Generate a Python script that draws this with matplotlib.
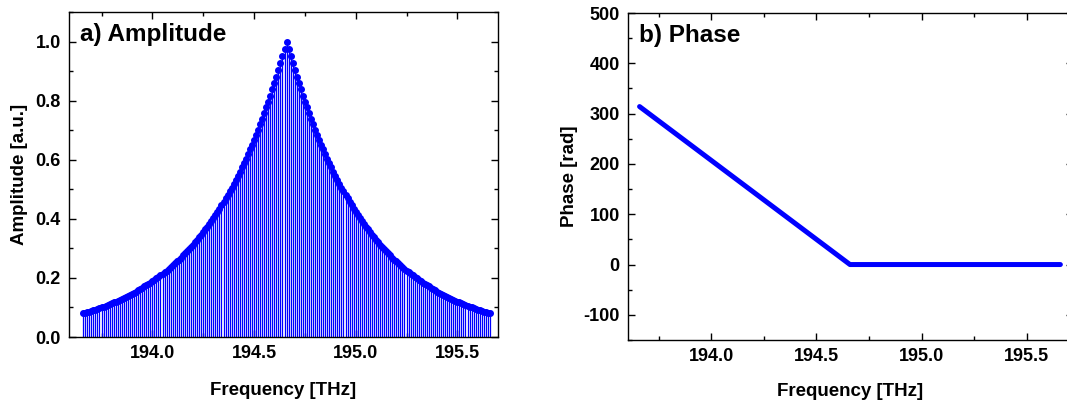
import matplotlib
matplotlib.use("Agg")
from matplotlib import pyplot as plt
from matplotlib.ticker import MultipleLocator

plt.rcParams['font.family'] = ['Liberation Sans', 'DejaVu Sans']
plt.rcParams['font.weight'] = 'bold'
plt.rcParams['axes.unicode_minus'] = False

# frequency grid, 10 GHz spacing [THz]
freq = [
    193.66, 193.67, 193.68, 193.69, 193.70, 193.71, 193.72, 193.73, 193.74, 193.75,
    193.76, 193.77, 193.78, 193.79, 193.80, 193.81, 193.82, 193.83, 193.84, 193.85,
    193.86, 193.87, 193.88, 193.89, 193.90, 193.91, 193.92, 193.93, 193.94, 193.95,
    193.96, 193.97, 193.98, 193.99, 194.00, 194.01, 194.02, 194.03, 194.04, 194.05,
    194.06, 194.07, 194.08, 194.09, 194.10, 194.11, 194.12, 194.13, 194.14, 194.15,
    194.16, 194.17, 194.18, 194.19, 194.20, 194.21, 194.22, 194.23, 194.24, 194.25,
    194.26, 194.27, 194.28, 194.29, 194.30, 194.31, 194.32, 194.33, 194.34, 194.35,
    194.36, 194.37, 194.38, 194.39, 194.40, 194.41, 194.42, 194.43, 194.44, 194.45,
    194.46, 194.47, 194.48, 194.49, 194.50, 194.51, 194.52, 194.53, 194.54, 194.55,
    194.56, 194.57, 194.58, 194.59, 194.60, 194.61, 194.62, 194.63, 194.64, 194.65,
    194.66,
    194.67, 194.68, 194.69, 194.70, 194.71, 194.72, 194.73, 194.74, 194.75, 194.76,
    194.77, 194.78, 194.79, 194.80, 194.81, 194.82, 194.83, 194.84, 194.85, 194.86,
    194.87, 194.88, 194.89, 194.90, 194.91, 194.92, 194.93, 194.94, 194.95, 194.96,
    194.97, 194.98, 194.99, 195.00, 195.01, 195.02, 195.03, 195.04, 195.05, 195.06,
    195.07, 195.08, 195.09, 195.10, 195.11, 195.12, 195.13, 195.14, 195.15, 195.16,
    195.17, 195.18, 195.19, 195.20, 195.21, 195.22, 195.23, 195.24, 195.25, 195.26,
    195.27, 195.28, 195.29, 195.30, 195.31, 195.32, 195.33, 195.34, 195.35, 195.36,
    195.37, 195.38, 195.39, 195.40, 195.41, 195.42, 195.43, 195.44, 195.45, 195.46,
    195.47, 195.48, 195.49, 195.50, 195.51, 195.52, 195.53, 195.54, 195.55, 195.56,
    195.57, 195.58, 195.59, 195.60, 195.61, 195.62, 195.63, 195.64, 195.65, 195.66,
]

# amplitude of each comb line [a.u.]
amp = [
    0.080, 0.082, 0.084, 0.086, 0.088, 0.091, 0.093, 0.095, 0.098, 0.100,
    0.103, 0.106, 0.108, 0.111, 0.114, 0.117, 0.120, 0.123, 0.126, 0.129,
    0.132, 0.136, 0.139, 0.143, 0.147, 0.150, 0.154, 0.158, 0.162, 0.166,
    0.171, 0.175, 0.179, 0.184, 0.189, 0.194, 0.199, 0.204, 0.209, 0.214,
    0.220, 0.225, 0.231, 0.237, 0.243, 0.249, 0.256, 0.262, 0.269, 0.276,
    0.283, 0.290, 0.297, 0.305, 0.313, 0.321, 0.329, 0.337, 0.346, 0.355,
    0.364, 0.373, 0.383, 0.393, 0.403, 0.413, 0.424, 0.434, 0.446, 0.457,
    0.469, 0.481, 0.493, 0.506, 0.518, 0.532, 0.545, 0.559, 0.574, 0.588,
    0.603, 0.619, 0.635, 0.651, 0.667, 0.685, 0.702, 0.720, 0.738, 0.757,
    0.777, 0.797, 0.817, 0.838, 0.859, 0.881, 0.904, 0.927, 0.951, 0.975,
    1.000,
    0.975, 0.951, 0.927, 0.904, 0.881, 0.859, 0.838, 0.817, 0.797, 0.777,
    0.757, 0.738, 0.720, 0.702, 0.685, 0.667, 0.651, 0.635, 0.619, 0.603,
    0.588, 0.574, 0.559, 0.545, 0.532, 0.518, 0.506, 0.493, 0.481, 0.469,
    0.457, 0.446, 0.434, 0.424, 0.413, 0.403, 0.393, 0.383, 0.373, 0.364,
    0.355, 0.346, 0.337, 0.329, 0.321, 0.313, 0.305, 0.297, 0.290, 0.283,
    0.276, 0.269, 0.262, 0.256, 0.249, 0.243, 0.237, 0.231, 0.225, 0.220,
    0.214, 0.209, 0.204, 0.199, 0.194, 0.189, 0.184, 0.179, 0.175, 0.171,
    0.166, 0.162, 0.158, 0.154, 0.150, 0.147, 0.143, 0.139, 0.136, 0.132,
    0.129, 0.126, 0.123, 0.120, 0.117, 0.114, 0.111, 0.108, 0.106, 0.103,
    0.100, 0.098, 0.095, 0.093, 0.091, 0.088, 0.086, 0.084, 0.082, 0.080,
]

# phase: linear ramp down to the peak, flat afterwards
phase_freq = [193.66, 194.66, 195.66]
phase = [314, 0, 0]

fig = plt.figure(figsize=(10.67, 4.03), dpi=100)
ax1 = fig.add_axes([69/1067, 66/403, 429/1067, 325/403])
ax2 = fig.add_axes([628/1067, 63/403, 445/1067, 327/403])

# a) amplitude, stem plot
ax1.vlines(freq, 0, amp, color='#0000ff', lw=0.9)
ax1.plot(freq, amp, 'o', color='#0000ff', ms=4, mec='#0000ff')
ax1.set_xlim(193.59, 195.70)
ax1.set_ylim(0, 1.1)
ax1.xaxis.set_minor_locator(MultipleLocator(0.25))
ax1.yaxis.set_major_locator(MultipleLocator(0.2))
ax1.yaxis.set_minor_locator(MultipleLocator(0.1))
ax1.set_xticks([194.0, 194.5, 195.0, 195.5])
ax1.set_xticklabels(['194.0', '194.5', '195.0', '195.5'])
ax1.set_ylabel('Amplitude [a.u.]', fontsize=13.5, fontweight='bold', labelpad=5)
ax1.set_xlabel('Frequency [THz]', fontsize=13.5, fontweight='bold', labelpad=14)
ax1.text(0.025, 0.965, 'a) Amplitude', transform=ax1.transAxes, fontsize=17.5,
         fontweight='bold', va='top', ha='left')

# b) phase
ax2.plot(phase_freq, phase, color='#0000ff', lw=3.6, solid_capstyle='round')
ax2.set_xlim(193.605, 195.72)
ax2.set_ylim(-150, 500)
ax2.xaxis.set_minor_locator(MultipleLocator(0.25))
ax2.yaxis.set_major_locator(MultipleLocator(100))
ax2.yaxis.set_minor_locator(MultipleLocator(50))
ax2.set_xticks([194.0, 194.5, 195.0, 195.5])
ax2.set_xticklabels(['194.0', '194.5', '195.0', '195.5'])
ax2.set_ylabel('Phase [rad]', fontsize=13.5, fontweight='bold', labelpad=4)
ax2.set_xlabel('Frequency [THz]', fontsize=13.5, fontweight='bold', labelpad=13)
ax2.text(0.025, 0.965, 'b) Phase', transform=ax2.transAxes, fontsize=17.5,
         fontweight='bold', va='top', ha='left')

for ax in (ax1, ax2):
    ax.tick_params(which='both', direction='in', top=True, right=True,
                   labelsize=13, width=1)
    ax.tick_params(which='major', length=5, pad=6)
    ax.tick_params(which='minor', length=3)
    for lab in ax.get_xticklabels() + ax.get_yticklabels():
        lab.set_fontweight('bold')
    for sp in ax.spines.values():
        sp.set_linewidth(1.0)

plt.savefig('out.png', dpi=100)
